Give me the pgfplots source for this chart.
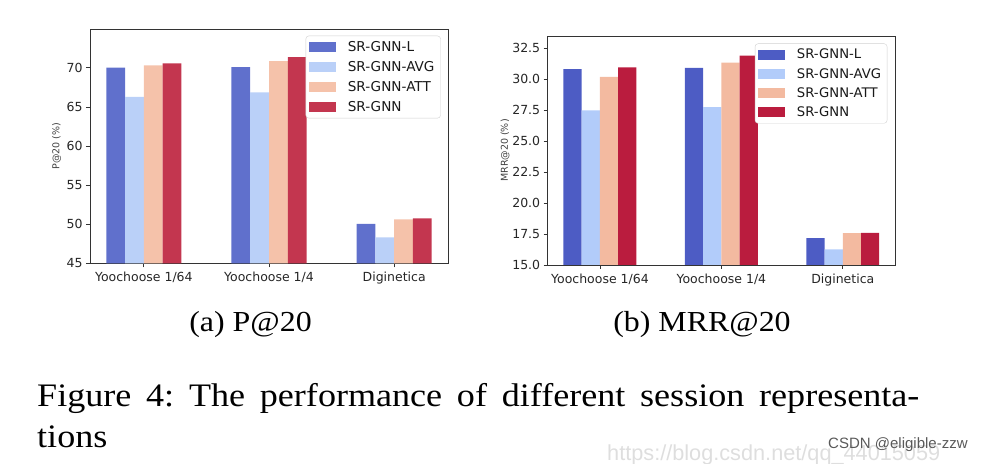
\documentclass[border=0pt]{standalone}
\usepackage{pgfplots}
\pgfplotsset{compat=1.18}
\usepackage{fontspec}
\setmainfont{Liberation Serif}
\newfontfamily\dejavu{DejaVu Sans}
\newfontfamily\libsans{Liberation Sans}
\frenchspacing

\definecolor{aL}{HTML}{6070CC}
\definecolor{aAVG}{HTML}{BAD0F8}
\definecolor{aATT}{HTML}{F5C2AA}
\definecolor{aSR}{HTML}{C3364F}
\definecolor{bL}{HTML}{4D5CC4}
\definecolor{bAVG}{HTML}{B2CCFA}
\definecolor{bATT}{HTML}{F3BAA0}
\definecolor{bSR}{HTML}{BA1C3E}

\pgfplotsset{
  mychart/.style={
    scale only axis,
    xmin=-0.43, xmax=2.43,
    xtick={0,1,2},
    xticklabels={Yoochoose 1/64, Yoochoose 1/4, Diginetica},
    tick align=outside,
    xtick pos=bottom, ytick pos=left,
    major tick length=4pt,
    tick style={black!80, line width=0.8pt},
    axis line style={black!80, line width=0.8pt},
    ticklabel style={font=\dejavu\fontsize{12.5}{12.5}\selectfont, text=black!85},
    /pgf/number format/assume math mode=true,
    xticklabel style={yshift=-1pt},
    every axis y label/.style={at={(axis description cs:#1,0.5)}, rotate=90, anchor=center,
      font=\dejavu\fontsize{9.5}{9.5}\selectfont, text=black!75},
    legend cell align=left,
    legend image code/.code={\path[##1,draw=none,sharp corners] (0pt,-4.8pt) rectangle (27.4pt,4.8pt);},
    legend style={at={(rel axis cs:1,1)}, anchor=north east,
      draw=black!18, rounded corners=3pt, fill=white,
      font=\dejavu\fontsize{13.6}{13.6}\selectfont, text=black!90,
      inner xsep=3pt, inner ysep=5pt, row sep=7.3pt,
      nodes={inner ysep=0.5pt, inner xsep=3pt},
      /tikz/every odd column/.append style={column sep=8.5pt}},
  },
  mybar/.style={ybar, bar width=0.15, bar shift=0pt, draw=none, fill=#1},
}

\begin{document}
\begin{tikzpicture}
\useasboundingbox (0pt,0pt) rectangle (995pt,463pt);

% ---------------- (a) P@20
\begin{axis}[mychart=-0.093,
  at={(90pt,199.7pt)}, anchor=south west,
  width=358pt, height=234pt,
  ymin=45, ymax=74.93,
  ytick={45,50,55,60,65,70},
  ylabel={P@20 (\%)},
  legend style={xshift=-7.3pt, yshift=-6.4pt},
]
\addplot[mybar=aL]   coordinates {(-0.225,70.02) (0.775,70.10) (1.775,50.03)};
\addplot[mybar=aAVG] coordinates {(-0.075,66.30) (0.925,66.85) (1.925,48.30)};
\addplot[mybar=aATT] coordinates {(0.075,70.30) (1.075,70.85) (2.075,50.62)};
\addplot[mybar=aSR]  coordinates {(0.225,70.57) (1.225,71.36) (2.225,50.73)};
\legend{SR-GNN-L, SR-GNN-AVG, SR-GNN-ATT, SR-GNN}
\end{axis}

% ---------------- (b) MRR@20
\begin{axis}[mychart=-0.123,
  at={(547.7pt,198pt)}, anchor=south west,
  width=347.3pt, height=229pt,
  ymin=15, ymax=33.48,
  ytick={15,17.5,20,22.5,25,27.5,30,32.5},
  yticklabel style={/pgf/number format/.cd, fixed, fixed zerofill, precision=1},
  ylabel={MRR@20 (\%)},
  legend style={xshift=-7.7pt, yshift=-7.5pt, row sep=6.8pt, font=\dejavu\fontsize{13.2}{13.2}\selectfont},
]
\addplot[mybar=bL]   coordinates {(-0.225,30.80) (0.775,30.90) (1.775,17.16)};
\addplot[mybar=bAVG] coordinates {(-0.075,27.48) (0.925,27.75) (1.925,16.27)};
\addplot[mybar=bATT] coordinates {(0.075,30.18) (1.075,31.34) (2.075,17.57)};
\addplot[mybar=bSR]  coordinates {(0.225,30.94) (1.225,31.89) (2.225,17.59)};
\legend{SR-GNN-L, SR-GNN-AVG, SR-GNN-ATT, SR-GNN}
\end{axis}

% ---------------- captions
\node[anchor=base, inner sep=0pt, font=\fontsize{29}{29}\selectfont] at (250.5pt,131.3pt) {\scalebox{1.1}[1]{(a) P@20}};
\node[anchor=base, inner sep=0pt, font=\fontsize{29}{29}\selectfont] at (702pt,131.3pt) {\scalebox{1.1}[1]{(b) MRR@20}};

\node[anchor=base west, inner sep=0pt, font=\fontsize{32.8}{32.8}\selectfont] at (37pt,56.3pt)
  {\scalebox{1.1}[1]{\hbox to 802pt{Figure 4: The performance of different session representa-}}};
\node[anchor=base west, inner sep=0pt, font=\fontsize{32.8}{32.8}\selectfont] at (37pt,15.3pt)
  {\scalebox{1.1}[1]{tions}};

% ---------------- watermark
\node[anchor=base west, inner sep=0pt, text=black!13, font=\libsans\fontsize{21.7}{21.7}\selectfont] at (607pt,3pt)
  {https://blog.csdn.net/qq\_44015059};
\node[anchor=base west, inner sep=0pt, text=black!65, font=\libsans\fontsize{15}{15}\selectfont] at (828pt,15pt)
  {CSDN @eligible-zzw};
\end{tikzpicture}
\end{document}
